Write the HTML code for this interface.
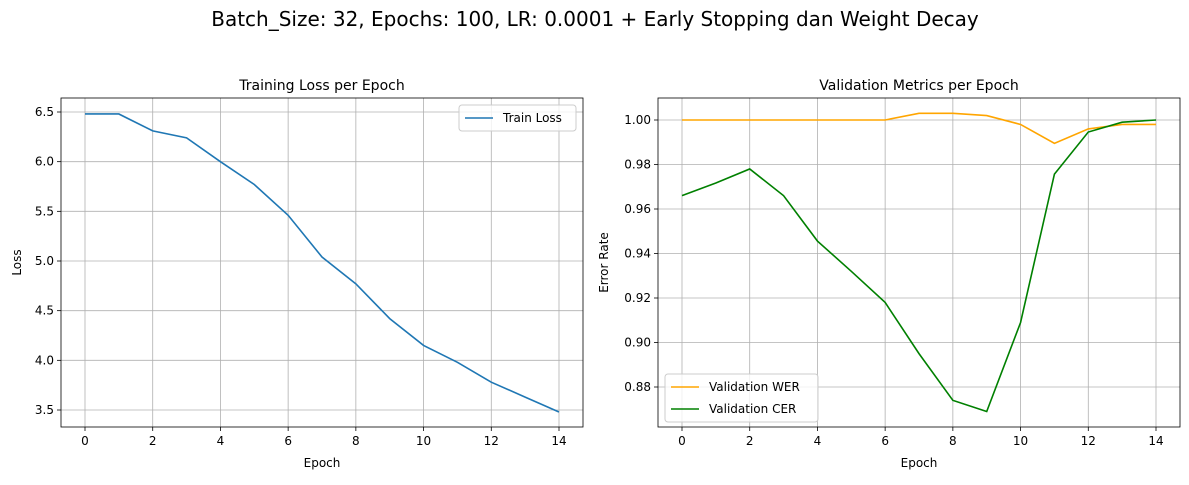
<!DOCTYPE html>
<html><head><meta charset="utf-8"><style>
body{margin:0;background:#fff;}
svg text{font-family:"DejaVu Sans","Liberation Sans",sans-serif;}
</style></head><body>
<svg id="fig" width="1189" height="480" xmlns="http://www.w3.org/2000/svg">
<rect width="1189" height="480" fill="#fff"/>
<text x="595" y="26" font-size="20" text-anchor="middle">Batch_Size: 32, Epochs: 100, LR: 0.0001 + Early Stopping dan Weight Decay</text>
<g id="left"></g><g id="right"></g>
</svg>
<script>
const epochs=[0,1,2,3,4,5,6,7,8,9,10,11,12,13,14];
const trainLoss=[6.48,6.48,6.31,6.24,6.00,5.77,5.46,5.04,4.77,4.42,4.15,3.98,3.78,3.63,3.48];
const valWer=[1.0,1.0,1.0,1.0,1.0,1.0,1.0,1.003,1.003,1.002,0.998,0.9895,0.996,0.998,0.998];
const valCer=[0.966,0.9717,0.978,0.966,0.9456,0.932,0.918,0.895,0.874,0.869,0.909,0.9757,0.9946,0.999,1.0];
const xTicks=[0,2,4,6,8,10,12,14];
const leftYTicks=[3.5,4.0,4.5,5.0,5.5,6.0,6.5];
const rightYTicks=[0.88,0.90,0.92,0.94,0.96,0.98,1.00];
const NS="http://www.w3.org/2000/svg";
function mk(p,t,a){const e=document.createElementNS(NS,t);for(const k in a)e.setAttribute(k,a[k]);p.appendChild(e);return e;}
function panel(g,o){
 const L=o.L,R=o.R,T=98,B=427;
 const sx=v=>o.x0+(v-0)*(o.x14-o.x0)/14;
 const sy=v=>o.ya+(v-o.va)*(o.yb-o.ya)/(o.vb-o.va);
 xTicks.forEach(v=>{
  const gl=mk(g,'line',{x1:sx(v),x2:sx(v),y1:T,y2:B,stroke:'#b0b0b0','stroke-width':0.8});
  
  mk(g,'line',{x1:sx(v),x2:sx(v),y1:B,y2:B+4,stroke:'#000','stroke-width':0.8});
  const t=mk(g,'text',{x:sx(v),y:B+18,'font-size':12,'text-anchor':'middle'});t.textContent=v;
  
 });
 o.yt.forEach(v=>{
  const gl=mk(g,'line',{x1:L,x2:R,y1:sy(v),y2:sy(v),stroke:'#b0b0b0','stroke-width':0.8});
  
  mk(g,'line',{x1:L-4,x2:L,y1:sy(v),y2:sy(v),stroke:'#000','stroke-width':0.8});
  const t=mk(g,'text',{x:L-7,y:sy(v)+4,'font-size':12,'text-anchor':'end'});t.textContent=v.toFixed(o.dec);
  
 });
 o.series.forEach(s=>{
  const p=mk(g,'polyline',{points:s.d.map((v,i)=>sx(epochs[i])+','+sy(v)).join(' '),fill:'none',stroke:s.c,'stroke-width':1.6});
  
 });
 const f=mk(g,'rect',{x:L,y:T,width:R-L,height:B-T,fill:'none',stroke:'#000','stroke-width':0.8});
 
 const tt=mk(g,'text',{x:(L+R)/2,y:T-8,'font-size':14,'text-anchor':'middle'});tt.textContent=o.title;
 
 const xl=mk(g,'text',{x:(L+R)/2,y:467,'font-size':12,'text-anchor':'middle'});xl.textContent='Epoch';
 
 const yx=o.ylx,yy=(T+B)/2;
 const yl=mk(g,'text',{x:yx,y:yy,'font-size':12,'text-anchor':'middle',transform:`rotate(-90 ${yx} ${yy})`});yl.textContent=o.ylabel;
 
 const lg=mk(g,'g',{});
 mk(lg,'rect',{x:o.lx,y:o.ly,width:o.lw,height:o.series.length*22+4,fill:'#fff','fill-opacity':0.8,stroke:'#ccc',rx:3});
 o.series.forEach((s,i)=>{
  const y=o.ly+13+i*22;
  mk(lg,'line',{x1:o.lx+6,x2:o.lx+34,y1:y,y2:y,stroke:s.c,'stroke-width':1.6});
  const t=mk(lg,'text',{x:o.lx+44,y:y+4,'font-size':12});t.textContent=s.label;
  
 });
}
panel(document.getElementById('left'),{L:61,R:583,x0:85,x14:559,ya:410,va:3.5,yb:112,vb:6.5,yt:leftYTicks,dec:1,
 title:'Training Loss per Epoch',ylabel:'Loss',ylx:21,lx:459,ly:105,lw:117,
 series:[{d:trainLoss,c:'#1f77b4',n:'train-loss-line',label:'Train Loss'}]});
panel(document.getElementById('right'),{L:658,R:1180,x0:682,x14:1156,ya:387,va:0.88,yb:120,vb:1.00,yt:rightYTicks,dec:2,
 title:'Validation Metrics per Epoch',ylabel:'Error Rate',ylx:608,lx:665,ly:374,lw:153,
 series:[{d:valWer,c:'orange',n:'validation-wer-line',label:'Validation WER'},{d:valCer,c:'green',n:'validation-cer-line',label:'Validation CER'}]});
</script>
</body></html>
